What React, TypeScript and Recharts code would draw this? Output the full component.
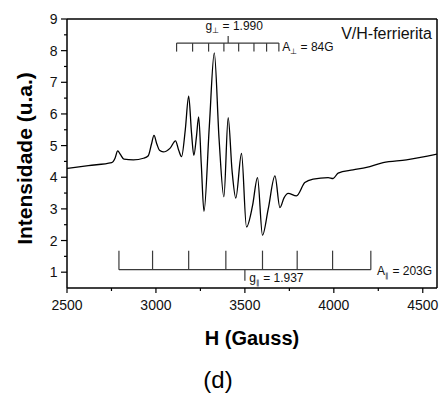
import React from "react";
import { Line, LineChart, ReferenceDot, ReferenceLine, XAxis, YAxis } from "recharts";

// EPR spectrum, V/H-ferrierita
const fieldG = [
  2500, 2620, 2751, 2770, 2785, 2800, 2820, 2873, 2930, 2957, 2975, 2989, 3005, 3020, 3041,
  3080, 3110, 3128, 3144, 3165, 3184, 3200, 3213, 3228, 3240, 3255, 3270, 3300, 3328, 3355,
  3382, 3406, 3428, 3449, 3481, 3509, 3543, 3571, 3599, 3631, 3669, 3697, 3720, 3743, 3790,
  3837, 3884, 3968, 3996, 4024, 4108, 4184, 4277, 4408, 4580
];
const intensity = [
  4.28, 4.37, 4.46, 4.6, 4.83, 4.72, 4.57, 4.55, 4.6, 4.68, 5.05, 5.32, 5.05, 4.85, 4.8,
  4.92, 5.15, 4.85, 4.65, 5.5, 6.56, 5.4, 4.69, 5.3, 5.91, 4.4, 2.92, 5.6, 7.93, 5.2,
  3.38, 5.88, 4.2, 3.34, 4.75, 2.43, 3.1, 3.99, 2.17, 2.99, 4.04, 3.04, 3.35, 3.49, 3.41,
  3.83, 3.94, 3.99, 3.96, 4.13, 4.23, 4.31, 4.46, 4.55, 4.73
];

const xDomain = [2500, 4580];
const yDomain = [0.5, 9];
const xTicks = [2500, 2750, 3000, 3250, 3500, 3750, 4000, 4250, 4500, 4580];
const xLabelled = [2500, 3000, 3500, 4000, 4500];
const yTicks = [1, 1.5, 2, 2.5, 3, 3.5, 4, 4.5, 5, 5.5, 6, 6.5, 7, 7.5, 8, 8.5, 9];

// hyperfine stick diagrams
const perpLines = [3116, 3206, 3296, 3382, 3465, 3551, 3622, 3691];
const perpCenter = 3406;
const parLines = [2792, 2981, 3184, 3393, 3599, 3794, 3993, 4208];
const parCenter = 3500;

const data = fieldG.map((h, i) => ({ h, v: intensity[i] }));

const FONT = "Arial, 'Liberation Sans', Helvetica, sans-serif";
const STICK = "#3a3a3a";

const perpBar = 8.24;
const perpEnd = 7.97;
const perpTop = 8.46;
const parBar = 1.08;
const parEnd = 1.68;
const parBottom = 0.73;

// chart box
const W = 441;
const H = 394;
const M = { top: 19, right: 4, bottom: 76, left: 0 };
const Y_AXIS_W = 67;
const X_AXIS_H = 30;
const PLOT_W = W - M.left - Y_AXIS_W - M.right;
const PLOT_H = H - M.top - M.bottom - X_AXIS_H;

function XTick(props: any) {
  const { x, y, payload } = props;
  // last tick is the right edge of the frame
  if (payload.value === xDomain[1]) {
    return <line x1={x} x2={x} y1={y} y2={y - PLOT_H} stroke="#000" strokeWidth={1.5} />;
  }
  const major = xLabelled.includes(payload.value);
  return (
    <g>
      <line x1={x} x2={x} y1={y} y2={y + (major ? 5 : 3)} stroke="#000" strokeWidth={1.2} />
      {major && (
        <text x={x} y={y + 22} textAnchor="middle" fontSize={14} fontFamily={FONT} fill="#111">
          {payload.value}
        </text>
      )}
    </g>
  );
}

function YTick(props: any) {
  const { x, y, payload } = props;
  const major = Number.isInteger(payload.value);
  const top = payload.value === yDomain[1];
  return (
    <g>
      <line x1={x} x2={x - (major ? 6 : 3)} y1={y} y2={y} stroke="#000" strokeWidth={1.2} />
      {top && <line x1={x} x2={x + PLOT_W} y1={y} y2={y} stroke="#000" strokeWidth={1.5} />}
      {major && (
        <text x={x - 9.5} y={y + 5} textAnchor="end" fontSize={14} fontFamily={FONT} fill="#111">
          {payload.value}
        </text>
      )}
    </g>
  );
}

const textAt = (content: React.ReactNode, size: number, anchor = "start") => (p: any) => (
  <text x={p.cx} y={p.cy} fontSize={size} fontFamily={FONT} fill="#111" textAnchor={anchor}>
    {content}
  </text>
);

const seg = (x1: number, y1: number, x2: number, y2: number) => [
  { x: x1, y: y1 },
  { x: x2, y: y2 }
];

export default function App() {
  return (
    <div style={{ position: "absolute", left: 0, top: 0, width: W, height: H, background: "#fff" }}>
      <LineChart width={W} height={H} data={data} margin={M}>
        <XAxis
          dataKey="h"
          type="number"
          domain={xDomain}
          allowDataOverflow
          ticks={xTicks}
          interval={0}
          height={X_AXIS_H}
          tickSize={0}
          tickMargin={0}
          tickLine={false}
          tick={<XTick />}
          axisLine={{ stroke: "#000", strokeWidth: 1.5 }}
          label={(p: any) => {
            const vb = p.viewBox;
            return (
              <g>
                <text
                  x={vb.x + vb.width / 2}
                  y={345}
                  textAnchor="middle"
                  fontSize={20}
                  fontWeight="bold"
                  fontFamily={FONT}
                  fill="#000"
                >
                  H (Gauss)
                </text>
                <text x={218} y={388} textAnchor="middle" fontSize={24} fontFamily={FONT} fill="#000">
                  (d)
                </text>
              </g>
            );
          }}
        />
        <YAxis
          type="number"
          domain={yDomain}
          allowDataOverflow
          ticks={yTicks}
          interval={0}
          width={Y_AXIS_W}
          tickSize={0}
          tickMargin={0}
          tickLine={false}
          tick={<YTick />}
          axisLine={{ stroke: "#000", strokeWidth: 1.5 }}
          label={(p: any) => {
            const vb = p.viewBox;
            const cx = 31.5;
            const cy = vb.y + vb.height / 2 + 5;
            return (
              <text
                x={cx}
                y={cy}
                transform={`rotate(-90, ${cx}, ${cy})`}
                textAnchor="middle"
                fontSize={21}
                fontWeight="bold"
                fontFamily={FONT}
                fill="#000"
              >
                Intensidade (u.a.)
              </text>
            );
          }}
        />

        {/* perpendicular stick diagram */}
        <ReferenceLine
          segment={seg(perpLines[0], perpBar, perpLines[perpLines.length - 1], perpBar)}
          stroke={STICK}
          strokeWidth={1.2}
        />
        {perpLines.map((g) => (
          <ReferenceLine key={`p${g}`} segment={seg(g, perpBar, g, perpEnd)} stroke={STICK} strokeWidth={1.2} />
        ))}
        <ReferenceLine segment={seg(perpCenter, perpBar, perpCenter, perpTop)} stroke={STICK} strokeWidth={1.2} />

        {/* parallel stick diagram */}
        <ReferenceLine
          segment={seg(parLines[0], parBar, parLines[parLines.length - 1], parBar)}
          stroke={STICK}
          strokeWidth={1.2}
        />
        {parLines.map((g) => (
          <ReferenceLine key={`q${g}`} segment={seg(g, parBar, g, parEnd)} stroke={STICK} strokeWidth={1.2} />
        ))}
        <ReferenceLine segment={seg(parCenter, parBar, parCenter, parBottom)} stroke={STICK} strokeWidth={1.2} />

        <Line
          type="monotone"
          dataKey="v"
          stroke="#000"
          strokeWidth={1.3}
          dot={false}
          activeDot={false}
          isAnimationActive={false}
        />

        <ReferenceDot
          x={3279}
          y={8.64}
          r={0}
          shape={textAt(
            <>
              g<tspan fontSize={8} dy={3}>⊥</tspan>
              <tspan dy={-3}> = 1.990</tspan>
            </>,
            12
          )}
        />
        <ReferenceDot
          x={3710}
          y={7.98}
          r={0}
          shape={textAt(
            <>
              A<tspan fontSize={8} dy={3}>⊥</tspan>
              <tspan dy={-3}> = 84G</tspan>
            </>,
            12
          )}
        />
        <ReferenceDot x={4551} y={8.38} r={0} shape={textAt("V/H-ferrierita", 16, "end")} />
        <ReferenceDot
          x={3524}
          y={0.68}
          r={0}
          shape={textAt(
            <>
              g<tspan fontSize={7} dy={3}>∥</tspan>
              <tspan dy={-3}> = 1.937</tspan>
            </>,
            12
          )}
        />
        <ReferenceDot
          x={4243}
          y={0.92}
          r={0}
          shape={textAt(
            <>
              A<tspan fontSize={7} dy={3}>∥</tspan>
              <tspan dy={-3}> = 203G</tspan>
            </>,
            12
          )}
        />
      </LineChart>
    </div>
  );
}
